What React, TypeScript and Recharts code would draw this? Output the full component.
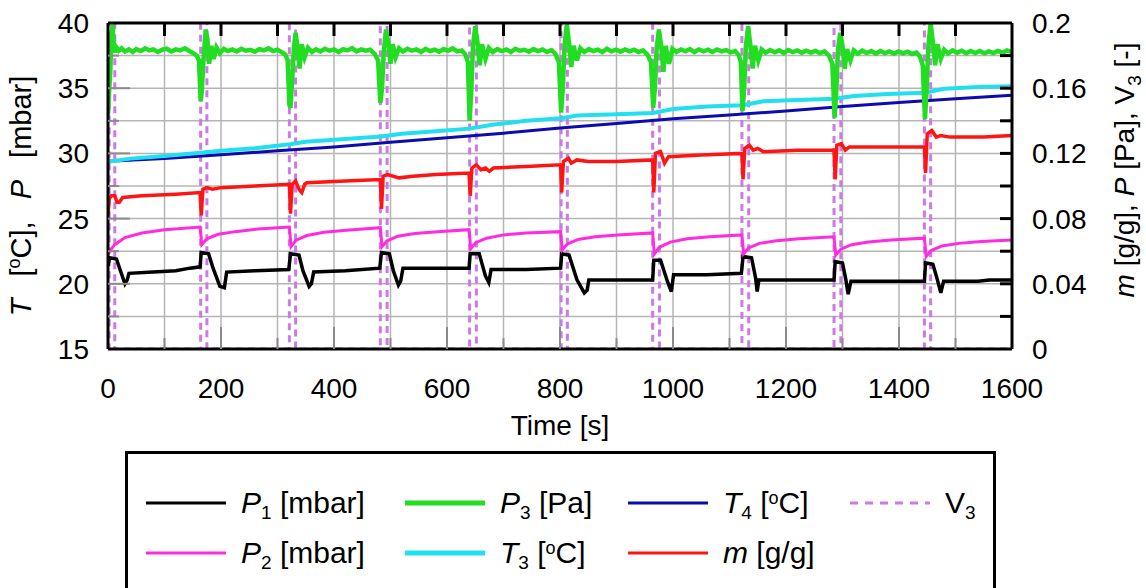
import React from "react";
import { LineChart, Line, XAxis, YAxis, CartesianGrid } from "recharts";

type Pt = [number, number];

const FONT = "'Liberation Sans', Arial, sans-serif";

const timeTicks = [0, 100, 200, 300, 400, 500, 600, 700, 800, 900, 1000, 1100, 1200, 1300, 1400, 1500, 1600];
const leftTicks = [15, 17.5, 20, 22.5, 25, 27.5, 30, 32.5, 35, 37.5, 40];
const rightTicks = [0, 0.02, 0.04, 0.06, 0.08, 0.1, 0.12, 0.14, 0.16, 0.18, 0.2];

// P1 [mbar], left axis
const p1: Pt[] = [
  [0, 21.4], [3, 22.0], [15, 21.9], [22, 21.0], [30, 20.0], [34, 20.3], [37, 20.8], [80, 20.9], [120, 21.0], [145, 21.2], [163, 21.3],
  [165, 22.4], [178, 22.3], [186, 21.2], [198, 19.8], [206, 19.7], [210, 20.9], [260, 21.0], [320, 21.1],
  [323, 22.3], [338, 22.2], [345, 21.0], [356, 19.8], [360, 20.0], [364, 20.9], [420, 21.0], [481, 21.2],
  [484, 22.4], [498, 22.3], [505, 21.0], [514, 19.9], [518, 20.2], [522, 21.2], [580, 21.2], [639, 21.2],
  [641, 22.3], [657, 22.3], [668, 20.6], [674, 20.1], [678, 21.1], [740, 21.1], [801, 21.2],
  [803, 22.3], [816, 22.2], [830, 20.3], [843, 19.3], [848, 19.5], [851, 20.3], [900, 20.3], [964, 20.3],
  [966, 21.8], [978, 21.8], [990, 20.2], [997, 19.4], [1001, 20.7], [1060, 20.7], [1121, 20.8],
  [1124, 22.1], [1139, 22.0], [1146, 20.5], [1149, 19.4], [1152, 20.3], [1220, 20.3], [1285, 20.3],
  [1287, 21.7], [1300, 21.6], [1306, 20.3], [1310, 19.2], [1315, 20.2], [1380, 20.2], [1445, 20.2],
  [1447, 21.6], [1460, 21.5], [1468, 20.3], [1474, 19.3], [1479, 20.2], [1540, 20.2], [1560, 20.3], [1600, 20.3],
];

// P2 [mbar], left axis
const p2: Pt[] = [
  [0, 22.3], [3, 22.5], [12, 23.0], [30, 23.55], [60, 23.9], [100, 24.15], [163, 24.35],
  [166, 23.0], [175, 23.45], [195, 23.8], [225, 24.0], [265, 24.2], [321, 24.35],
  [324, 22.85], [333, 23.35], [352, 23.7], [382, 23.95], [422, 24.1], [482, 24.3],
  [485, 22.85], [494, 23.3], [513, 23.65], [543, 23.85], [583, 24.0], [639, 24.15],
  [642, 22.7], [651, 23.15], [670, 23.5], [700, 23.75], [740, 23.9], [801, 24.0],
  [804, 22.6], [813, 23.05], [832, 23.4], [862, 23.6], [902, 23.75], [964, 23.9],
  [967, 22.3], [976, 22.8], [995, 23.2], [1025, 23.45], [1065, 23.6], [1122, 23.75],
  [1125, 22.3], [1134, 22.75], [1153, 23.1], [1183, 23.3], [1223, 23.45], [1285, 23.6],
  [1288, 22.2], [1297, 22.65], [1316, 23.0], [1346, 23.2], [1386, 23.35], [1445, 23.5],
  [1448, 22.1], [1457, 22.55], [1476, 22.9], [1506, 23.1], [1546, 23.25], [1600, 23.35],
];

// T3 [oC], left axis
const t3: Pt[] = [
  [0, 29.35], [40, 29.6], [100, 29.8], [164, 30.05], [200, 30.2], [260, 30.4], [322, 30.7], [350, 30.9], [420, 31.1],
  [483, 31.3], [520, 31.5], [580, 31.7], [640, 31.9], [680, 32.2], [740, 32.5], [802, 32.7], [830, 32.9], [900, 33.0],
  [965, 33.1], [1000, 33.4], [1060, 33.6], [1123, 33.7], [1160, 34.0], [1220, 34.1], [1286, 34.2], [1320, 34.4],
  [1380, 34.55], [1446, 34.65], [1480, 34.95], [1540, 35.1], [1600, 35.15],
];

// T4 [oC], left axis
const t4: Pt[] = [
  [0, 29.4], [100, 29.6], [200, 29.9], [300, 30.2], [400, 30.5], [500, 30.85], [600, 31.2], [700, 31.55], [800, 31.95],
  [900, 32.3], [1000, 32.65], [1100, 32.95], [1200, 33.25], [1300, 33.6], [1400, 33.9], [1500, 34.2], [1600, 34.45],
];

// m [g/g], right axis
const mass: Pt[] = [
  [0, 0.082], [2, 0.092], [6, 0.094], [12, 0.094], [16, 0.09], [20, 0.09], [26, 0.093], [60, 0.094], [120, 0.095], [163, 0.096],
  [165, 0.082], [168, 0.098], [175, 0.099], [185, 0.098], [200, 0.099], [260, 0.1], [321, 0.101],
  [323, 0.083], [326, 0.101], [332, 0.103], [338, 0.098], [343, 0.096], [348, 0.101], [352, 0.102], [420, 0.103], [482, 0.104],
  [484, 0.086], [487, 0.106], [495, 0.107], [515, 0.105], [540, 0.106], [580, 0.107], [639, 0.108],
  [641, 0.094], [644, 0.111], [652, 0.113], [660, 0.11], [668, 0.111], [675, 0.109], [682, 0.111], [740, 0.112], [801, 0.113],
  [803, 0.096], [806, 0.115], [815, 0.117], [820, 0.114], [830, 0.116], [850, 0.115], [900, 0.115], [964, 0.116],
  [966, 0.096], [969, 0.12], [978, 0.121], [985, 0.114], [992, 0.118], [1050, 0.119], [1122, 0.12],
  [1124, 0.104], [1127, 0.123], [1135, 0.125], [1142, 0.122], [1150, 0.123], [1160, 0.121], [1220, 0.122], [1285, 0.122],
  [1287, 0.104], [1290, 0.125], [1298, 0.126], [1305, 0.122], [1312, 0.124], [1370, 0.124], [1445, 0.124],
  [1447, 0.108], [1450, 0.132], [1458, 0.134], [1466, 0.13], [1474, 0.131], [1490, 0.13], [1550, 0.13], [1600, 0.131],
];

// P3 [Pa], right axis
const p3: Pt[] = [
  [0, 0.144], [2, 0.158], [4, 0.17], [6, 0.19], [8, 0.199], [10, 0.186], [12, 0.182], [15, 0.185], [19, 0.183], [24, 0.1845], [30, 0.1825],
  [37, 0.1838], [44, 0.1822], [50, 0.184], [58, 0.1828], [66, 0.1845], [73, 0.1832], [80, 0.1838], [88, 0.1822], [96, 0.1836], [104, 0.1842],
  [112, 0.1826], [120, 0.1838], [128, 0.1832], [136, 0.1845], [144, 0.1828], [151, 0.1815], [157, 0.18], [161, 0.177],
  [164, 0.152], [166, 0.158], [169, 0.178], [173, 0.196], [176, 0.19], [179, 0.175], [183, 0.186], [187, 0.178], [192, 0.185], [198, 0.1815],
  [205, 0.1842], [212, 0.1828], [220, 0.1838], [228, 0.1825], [236, 0.1842], [244, 0.183], [252, 0.1836], [260, 0.1824], [268, 0.184],
  [276, 0.1832], [284, 0.1845], [292, 0.1828], [300, 0.1836], [308, 0.182], [314, 0.1805], [318, 0.177],
  [321, 0.15], [323, 0.148], [326, 0.165], [329, 0.185], [332, 0.194], [335, 0.186], [339, 0.172], [343, 0.187], [348, 0.179], [354, 0.1848],
  [361, 0.1822], [368, 0.1838], [376, 0.1826], [384, 0.1842], [392, 0.183], [400, 0.1838], [408, 0.1822], [416, 0.184], [424, 0.1832],
  [432, 0.1846], [440, 0.1826], [448, 0.1838], [456, 0.183], [464, 0.1836], [472, 0.181], [478, 0.177],
  [482, 0.151], [485, 0.16], [488, 0.182], [492, 0.196], [496, 0.188], [500, 0.175], [504, 0.187], [509, 0.179], [515, 0.1845], [522, 0.1825],
  [530, 0.1842], [538, 0.183], [546, 0.1838], [554, 0.1822], [562, 0.1842], [570, 0.1828], [578, 0.1836], [586, 0.1824], [594, 0.184],
  [602, 0.183], [610, 0.1844], [618, 0.1826], [626, 0.1832], [632, 0.181], [637, 0.176],
  [640, 0.14], [643, 0.158], [646, 0.186], [650, 0.198], [654, 0.188], [658, 0.174], [662, 0.187], [668, 0.178], [674, 0.1848], [681, 0.1822],
  [689, 0.184], [697, 0.1828], [705, 0.1838], [713, 0.1822], [721, 0.1842], [729, 0.183], [737, 0.1836], [745, 0.1824], [753, 0.184],
  [761, 0.1828], [769, 0.1838], [777, 0.1822], [785, 0.1834], [792, 0.181], [798, 0.176],
  [802, 0.145], [805, 0.16], [808, 0.186], [812, 0.199], [816, 0.188], [820, 0.173], [824, 0.186], [830, 0.177], [836, 0.1845], [843, 0.1822],
  [851, 0.184], [859, 0.1828], [867, 0.1836], [875, 0.1822], [883, 0.1842], [891, 0.1826], [899, 0.1836], [907, 0.1824], [915, 0.1838],
  [923, 0.1826], [931, 0.1836], [939, 0.1822], [947, 0.1832], [955, 0.1805], [961, 0.176],
  [965, 0.148], [968, 0.16], [971, 0.184], [975, 0.196], [979, 0.186], [983, 0.17], [987, 0.186], [993, 0.175], [999, 0.1842], [1006, 0.1822],
  [1014, 0.1838], [1022, 0.1826], [1030, 0.184], [1038, 0.1822], [1046, 0.1838], [1054, 0.1826], [1062, 0.1836], [1070, 0.1822],
  [1078, 0.1838], [1086, 0.1826], [1094, 0.1834], [1102, 0.182], [1110, 0.1828], [1116, 0.1805], [1120, 0.176],
  [1123, 0.146], [1126, 0.16], [1129, 0.186], [1133, 0.198], [1137, 0.186], [1141, 0.172], [1145, 0.186], [1151, 0.177], [1157, 0.1838],
  [1164, 0.1818], [1172, 0.1834], [1180, 0.182], [1188, 0.1832], [1196, 0.1816], [1204, 0.1834], [1212, 0.1822], [1220, 0.1832],
  [1228, 0.1818], [1236, 0.183], [1244, 0.1818], [1252, 0.1828], [1260, 0.1816], [1268, 0.1826], [1276, 0.18], [1282, 0.175],
  [1286, 0.142], [1289, 0.158], [1292, 0.184], [1296, 0.194], [1300, 0.186], [1304, 0.172], [1308, 0.184], [1314, 0.177], [1320, 0.1832],
  [1327, 0.1812], [1335, 0.183], [1343, 0.1816], [1351, 0.1828], [1359, 0.1812], [1367, 0.1828], [1375, 0.1816], [1383, 0.1826],
  [1391, 0.1812], [1399, 0.1826], [1407, 0.1814], [1415, 0.1824], [1423, 0.181], [1431, 0.1818], [1437, 0.1795], [1442, 0.174],
  [1446, 0.141], [1449, 0.16], [1452, 0.186], [1456, 0.2], [1460, 0.188], [1464, 0.174], [1468, 0.187], [1474, 0.178], [1480, 0.1836],
  [1487, 0.1814], [1495, 0.1832], [1503, 0.1818], [1511, 0.183], [1519, 0.1814], [1527, 0.1828], [1535, 0.1816], [1543, 0.1828],
  [1551, 0.1814], [1559, 0.1826], [1567, 0.1816], [1575, 0.1828], [1583, 0.1818], [1591, 0.1832], [1600, 0.1822],
];

// V3 [-] valve state (0 closed / 1 open), right axis
const v3: Pt[] = [
  [0, 0], [2, 0], [2, 1], [12, 1], [12, 0],
  [164, 0], [164, 1], [175, 1], [175, 0],
  [321, 0], [321, 1], [332, 1], [332, 0],
  [482, 0], [482, 1], [494, 1], [494, 0],
  [640, 0], [640, 1], [652, 1], [652, 0],
  [802, 0], [802, 1], [813, 1], [813, 0],
  [964, 0], [964, 1], [976, 1], [976, 0],
  [1122, 0], [1122, 1], [1134, 1], [1134, 0],
  [1285, 0], [1285, 1], [1297, 1], [1297, 0],
  [1445, 0], [1445, 1], [1456, 1], [1456, 0],
  [1600, 0],
];

const rows = (pts: Pt[]) => pts.map(([t, v]) => ({ t, v }));

const series = [
  { id: "V3", data: v3, axis: "right", color: "#cc7ae6", width: 3, dash: "7 5", legendWidth: 3 },
  { id: "P1", data: p1, axis: 0, color: "#000000", width: 3.5, legendWidth: 3 },
  { id: "P2", data: p2, axis: 0, color: "#ff2bdf", width: 3, legendWidth: 3 },
  { id: "m", data: mass, axis: "right", color: "#ff1414", width: 3.5, legendWidth: 3 },
  { id: "T4", data: t4, axis: 0, color: "#0b0bb0", width: 3, legendWidth: 3 },
  { id: "T3", data: t3, axis: 0, color: "#22dff0", width: 4, legendWidth: 5 },
  { id: "P3", data: p3, axis: "right", color: "#22dd22", width: 4.5, legendWidth: 5 },
];

const sub = (s: string) => <sub style={{ fontSize: 19, verticalAlign: -6, lineHeight: 0 }}>{s}</sub>;
const deg = <sup style={{ fontSize: 18, verticalAlign: 9, lineHeight: 0 }}>o</sup>;

const legendItems: { id: string; col: number; row: number; label: React.ReactNode }[] = [
  { id: "P1", col: 0, row: 0, label: <><i>P</i>{sub("1")} [mbar]</> },
  { id: "P3", col: 1, row: 0, label: <><i>P</i>{sub("3")} [Pa]</> },
  { id: "T4", col: 2, row: 0, label: <><i>T</i>{sub("4")} [{deg}C]</> },
  { id: "V3", col: 3, row: 0, label: <>V{sub("3")}</> },
  { id: "P2", col: 0, row: 1, label: <><i>P</i>{sub("2")} [mbar]</> },
  { id: "T3", col: 1, row: 1, label: <><i>T</i>{sub("3")} [{deg}C]</> },
  { id: "m", col: 2, row: 1, label: <><i>m</i> [g/g]</> },
];

const LEG_LINE_X = [143, 402, 625, 847];
const LEG_ROW_Y = [500, 550];

const near = (a: number, b: number) => Math.abs(a - b) < 1e-6;

function BottomTick(p: any) {
  const { x, y, payload } = p;
  const v = payload.value;
  const major = v % 200 === 0;
  return (
    <g>
      {v > 0 && v < 1600 && (
        <line x1={x} x2={x} y1={y} y2={y - (major ? 22 : 11)} stroke="#8a8a8a" strokeWidth={2} />
      )}
      {major && (
        <text x={x} y={y + 49} textAnchor="middle" fontSize={28} fontFamily={FONT} fill="#000">
          {v}
        </text>
      )}
    </g>
  );
}

function TopTick(p: any) {
  const { x, y, payload } = p;
  const v = payload.value;
  if (v <= 0 || v >= 1600) return <g />;
  return <line x1={x} x2={x} y1={y} y2={y + 13} stroke="#000" strokeWidth={3} />;
}

function LeftTick(p: any) {
  const { x, y, payload } = p;
  const v = payload.value;
  const major = near(v % 5, 0);
  return (
    <g>
      {v > 15 && v < 40 && (
        <line x1={x} x2={x + (major ? 22 : 11)} y1={y} y2={y} stroke="#8a8a8a" strokeWidth={2} />
      )}
      {major && (
        <text x={x - 19} y={y + 10} textAnchor="end" fontSize={28} fontFamily={FONT} fill="#000">
          {v}
        </text>
      )}
    </g>
  );
}

function RightTick(p: any) {
  const { x, y, payload } = p;
  const v = payload.value;
  const labelled = Math.round(v * 100) % 4 === 0;
  const text = near(v, 0) ? "0" : near(v, 0.2) ? "0.2" : v.toFixed(2);
  return (
    <g>
      {v > 0 && v < 0.2 && <line x1={x} x2={x - 12} y1={y} y2={y} stroke="#000" strokeWidth={3} />}
      {labelled && (
        <text x={x + 20} y={y + 10} textAnchor="start" fontSize={28} fontFamily={FONT} fill="#000">
          {text}
        </text>
      )}
    </g>
  );
}

function LeftTitle(p: any) {
  const vb = p.viewBox || { x: 8, y: 23, width: 100, height: 326 };
  const cx = vb.x + 23;
  const cy = vb.y + vb.height / 2 + 10;
  return (
    <text
      x={cx}
      y={cy}
      transform={`rotate(-90, ${cx}, ${cy})`}
      textAnchor="middle"
      fontSize={29}
      wordSpacing={14}
      fontFamily={FONT}
      fill="#000"
    >
      <tspan fontStyle="italic">T</tspan>
      <tspan> [</tspan>
      <tspan fontSize={18} dy={-11}>o</tspan>
      <tspan dy={11}>C], </tspan>
      <tspan fontStyle="italic">P</tspan>
      <tspan> [mbar]</tspan>
    </text>
  );
}

function RightTitle(p: any) {
  const vb = p.viewBox || { x: 1012, y: 23, width: 120, height: 326 };
  const cx = vb.x + 122;
  const cy = vb.y + vb.height / 2 - 16;
  return (
    <text x={cx} y={cy} transform={`rotate(-90, ${cx}, ${cy})`} textAnchor="middle" fontSize={28} fontFamily={FONT} fill="#000">
      <tspan fontStyle="italic">m</tspan>
      <tspan> [g/g], </tspan>
      <tspan fontStyle="italic">P</tspan>
      <tspan> [Pa], V</tspan>
      <tspan fontSize={19} dy={7}>3</tspan>
      <tspan dy={-7}> [-]</tspan>
    </text>
  );
}

function BottomTitle(p: any) {
  const vb = p.viewBox || { x: 108, y: 349, width: 904, height: 60 };
  return (
    <text x={vb.x + vb.width / 2} y={vb.y + 86} textAnchor="middle" fontSize={28} fontFamily={FONT} fill="#000">
      Time [s]
    </text>
  );
}

function LegendBox() {
  return (
    <div
      style={{
        position: "absolute",
        left: 125,
        top: 451,
        width: 871,
        height: 170,
        border: "3px solid #000",
        boxSizing: "border-box",
      }}
    >
      {legendItems.map((it) => {
        const s = series.find((q) => q.id === it.id)!;
        const lx = LEG_LINE_X[it.col] - 125;
        const ly = LEG_ROW_Y[it.row] - 451;
        return (
          <div key={it.id} style={{ position: "absolute", left: lx, top: ly - 22, height: 44, display: "flex", alignItems: "center", whiteSpace: "nowrap" }}>
            <svg width={80} height={10} style={{ display: "block" }}>
              <line x1={0} x2={80} y1={5} y2={5} stroke={s.color} strokeWidth={s.legendWidth} strokeDasharray={s.dash ? "8 7" : undefined} />
            </svg>
            <span style={{ marginLeft: 15, fontSize: 30, fontFamily: FONT, lineHeight: "44px", color: "#000" }}>{it.label}</span>
          </div>
        );
      })}
    </div>
  );
}

export default function App() {
  return (
    <div style={{ position: "absolute", left: 0, top: 0, width: 1146, height: 588, overflow: "hidden", background: "#fff" }}>
      <LineChart width={1146} height={588} margin={{ top: 22, right: 14, bottom: 179, left: 8 }} style={{ fontFamily: FONT }}>
        <CartesianGrid stroke="#b5b5b5" strokeWidth={1.5} />
        <XAxis
          dataKey="t"
          type="number"
          domain={[0, 1600]}
          ticks={timeTicks}
          interval={0}
          allowDataOverflow
          height={60}
          tickSize={0}
          tickMargin={0}
          tick={BottomTick}
          axisLine={{ stroke: "#000", strokeWidth: 3 }}
          label={BottomTitle}
        />
        <XAxis
          xAxisId="top"
          orientation="top"
          dataKey="t"
          type="number"
          domain={[0, 1600]}
          ticks={timeTicks}
          interval={0}
          allowDataOverflow
          height={1}
          tickSize={0}
          tickMargin={0}
          tick={TopTick}
          axisLine={{ stroke: "#000", strokeWidth: 3 }}
        />
        <YAxis
          type="number"
          domain={[15, 40]}
          ticks={leftTicks}
          interval={0}
          allowDataOverflow
          width={100}
          tickSize={0}
          tickMargin={0}
          tick={LeftTick}
          axisLine={{ stroke: "#000", strokeWidth: 3 }}
          label={LeftTitle}
        />
        <YAxis
          yAxisId="right"
          orientation="right"
          type="number"
          domain={[0, 0.2]}
          ticks={rightTicks}
          interval={0}
          allowDataOverflow
          width={120}
          tickSize={0}
          tickMargin={0}
          tick={RightTick}
          axisLine={{ stroke: "#000", strokeWidth: 3 }}
          label={RightTitle}
        />
        {series.map((s) => (
          <Line
            key={s.id}
            data={rows(s.data)}
            dataKey="v"
            yAxisId={s.axis}
            type="linear"
            stroke={s.color}
            strokeWidth={s.width}
            strokeDasharray={s.dash}
            dot={false}
            activeDot={false}
            isAnimationActive={false}
          />
        ))}
      </LineChart>
      <LegendBox />
    </div>
  );
}
